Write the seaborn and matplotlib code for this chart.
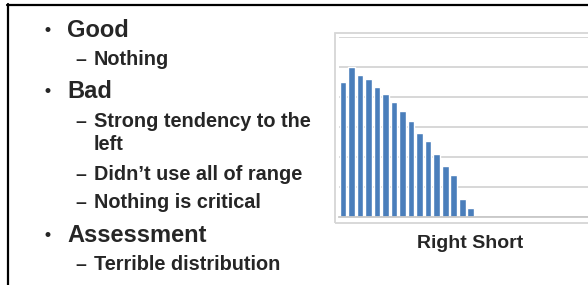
import seaborn as sns
import pandas as pd
import numpy as np
from matplotlib import pyplot as plt
from matplotlib.patches import Rectangle
from matplotlib.lines import Line2D

# bar heights (gridline = 10)
bins = list(range(1, 17))
counts = [45, 50, 47.5, 46, 43.5, 41, 38.5, 35.5, 32, 28, 25.5, 21, 17, 14, 6, 3]

bullets = [
    (0, "Good", 36.7),
    (1, "Nothing", 65),
    (0, "Bad", 98),
    (1, "Strong tendency to the", 127),
    (2, "left", 150),
    (1, "Didn\u2019t use all of range", 180),
    (1, "Nothing is critical", 208),
    (0, "Assessment", 242),
    (1, "Terrible distribution", 270),
]
chart_label = "Right Short"

sns.set_style("white")
plt.rcParams['font.family'] = ['Liberation Sans', 'DejaVu Sans']

W, H = 588, 285
fig = plt.figure(figsize=(W / 100, H / 100), dpi=100)

def fx(px):
    return px / W

def fy(py):
    return 1 - py / H

# page border (top and left only, the rest is cropped)
fig.add_artist(Line2D([fx(7), fx(588)], [fy(5), fy(5)], color="black", lw=1.6))
fig.add_artist(Line2D([fx(8), fx(8)], [fy(4), fy(285)], color="black", lw=1.6))

# bullet text
for level, txt, base in bullets:
    if level == 0:
        fig.text(fx(44.5), fy(base - 2), "\u2022", fontsize=12.5, fontweight="bold",
                 va="baseline", ha="left")
        fig.text(fx(67), fy(base), txt, fontsize=17, fontweight="bold",
                 va="baseline", ha="left")
    elif level == 1:
        fig.text(fx(75), fy(base), "\u2013", fontsize=14, fontweight="bold",
                 va="baseline", ha="left")
        fig.text(fx(94), fy(base), txt, fontsize=14.3, fontweight="bold",
                 va="baseline", ha="left")
    else:
        fig.text(fx(94), fy(base), txt, fontsize=14.3, fontweight="bold",
                 va="baseline", ha="left")

# chart frame
fig.add_artist(Rectangle((fx(335), fy(223)), fx(300), 190 / H, transform=fig.transFigure,
                         fill=False, edgecolor="#d6d6d6", lw=1.3))

# plot area, runs past the right edge
left, right, top, bottom = 339, 740, 37, 217
ax = fig.add_axes([fx(left), fy(bottom), fx(right - left), (bottom - top) / H])
df = pd.DataFrame({"bin": bins, "count": counts})
sns.barplot(data=df, x="bin", y="count", color="#4A7EBB", saturation=1,
            width=0.78, ax=ax)
ax.set_xlim(-0.45, (right - left) / 8.53 - 0.45)
ax.set_ylim(0, 60)
ax.set_yticks(range(0, 61, 10))
ax.set_xticks([])
ax.set_yticklabels([])
ax.set_xlabel("")
ax.set_ylabel("")
ax.grid(axis="y", color="#d4d4d4", lw=1.3)
ax.set_axisbelow(True)
for s in ["top", "right", "left"]:
    ax.spines[s].set_visible(False)
ax.spines["bottom"].set_color("#c8c8c8")
ax.spines["bottom"].set_linewidth(1.3)
ax.tick_params(length=0)

fig.text(fx(470), fy(248), chart_label, fontsize=14, fontweight="bold",
         ha="center", va="baseline")

fig.savefig("out.png", dpi=100)
